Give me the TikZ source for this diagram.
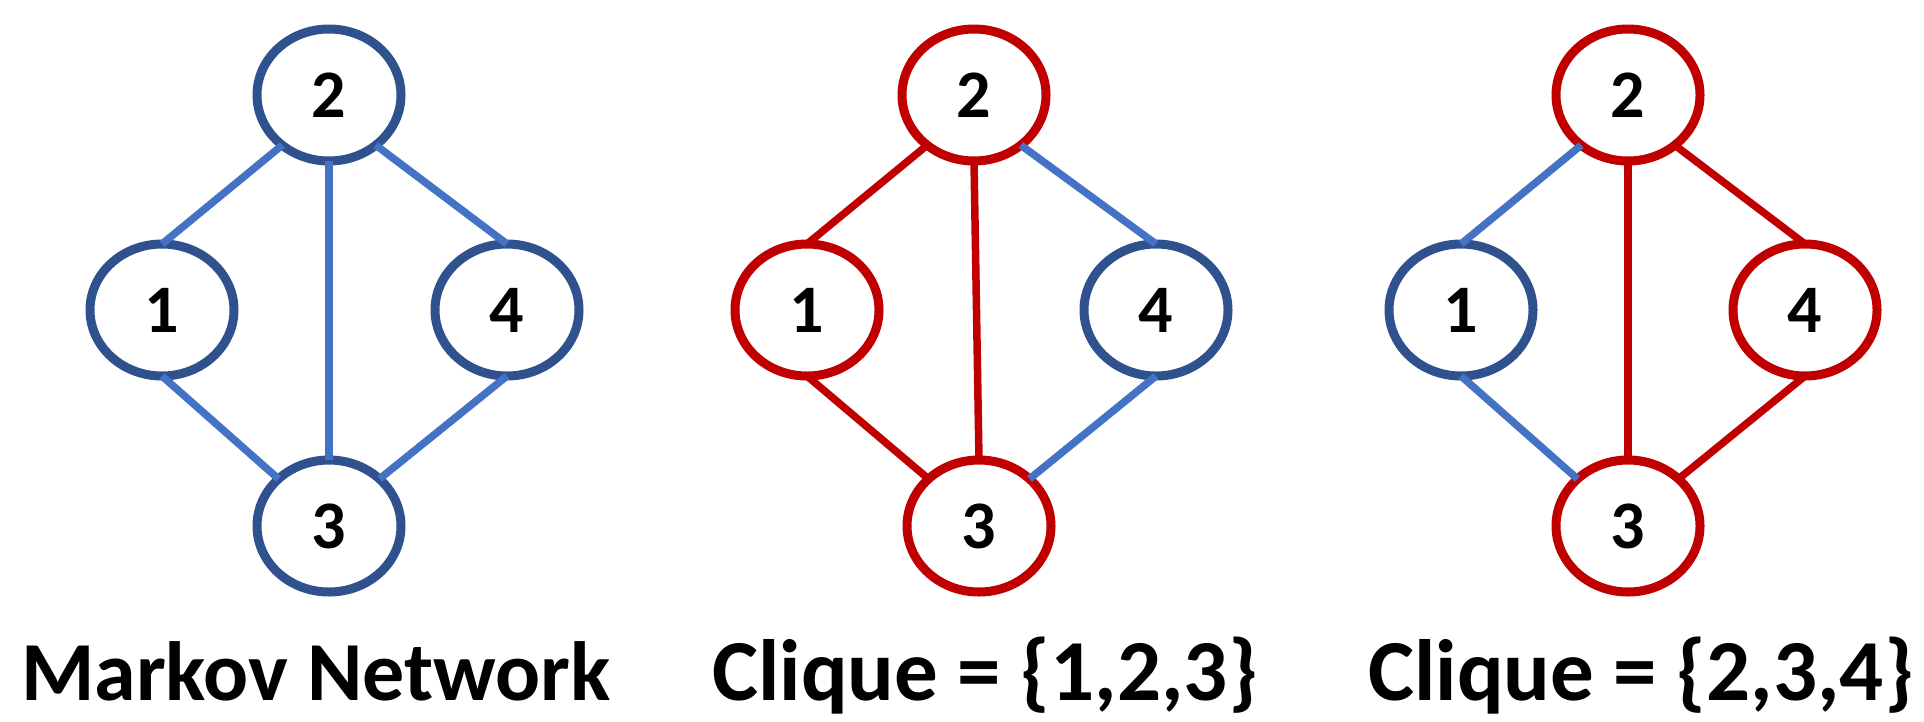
\documentclass[tikz,border=0pt]{standalone}
\usepackage{fontspec}
\setmainfont{Carlito}
\usetikzlibrary{shapes.geometric}
\definecolor{nodeblue}{HTML}{2F528F}
\definecolor{edgeblue}{HTML}{4472C4}
\definecolor{cred}{HTML}{C00000}
\tikzset{
  vbase/.style={ellipse, minimum width=144pt, minimum height=132pt, inner sep=0pt, outer sep=0pt,
    line width=9pt, fill=white, font=\fontsize{68}{80}\selectfont\bfseries},
  vblue/.style={vbase, draw=nodeblue},
  vred/.style={vbase, draw=cred},
  eblue/.style={draw=edgeblue, line width=7.5pt},
  ered/.style={draw=cred, line width=7.5pt},
  caption/.style={anchor=base, inner sep=0pt, font=\fontsize{84}{100}\selectfont\bfseries},
  captionb/.style={caption, font=\fontsize{87}{104}\selectfont\bfseries}
}
\begin{document}
\begin{tikzpicture}[x=1pt, y=-1pt]
\useasboundingbox (0,0) rectangle (1924,721);
% Graph 1
\node[vblue] (a2) at (329,95) {2};
\node[vblue] (a1) at (162,310) {1};
\node[vblue] (a4) at (507,310) {4};
\node[vblue] (a3) at (329,526) {3};
\draw[eblue] (a2.227) -- (a1.north);
\draw[eblue] (a2.south) -- (a3.north);
\draw[eblue] (a2.313) -- (a4.north);
\draw[eblue] (a1.south) -- (a3.137);
\draw[eblue] (a4.south) -- (a3.43);
\node[caption] (t1) at (316,700) {Markov Network};
% Graph 2
\node[vred] (b2) at (974,95) {2};
\node[vred] (b1) at (807,310) {1};
\node[vblue] (b4) at (1156,310) {4};
\node[vred] (b3) at (979,526) {3};
\draw[ered] (b2.227) -- (b1.north);
\draw[ered] (b2.south) -- (b3.north);
\draw[eblue] (b2.313) -- (b4.north);
\draw[ered] (b1.south) -- (b3.137);
\draw[eblue] (b4.south) -- (b3.43);
\node[captionb] (t2) at (985,700) {Clique = \{1,2,3\}};
% Graph 3
\node[vred] (c2) at (1628,95) {2};
\node[vblue] (c1) at (1461,310) {1};
\node[vred] (c4) at (1805,310) {4};
\node[vred] (c3) at (1628,526) {3};
\draw[eblue] (c2.227) -- (c1.north);
\draw[ered] (c2.south) -- (c3.north);
\draw[ered] (c2.313) -- (c4.north);
\draw[eblue] (c1.south) -- (c3.137);
\draw[ered] (c4.south) -- (c3.43);
\node[captionb] (t3) at (1641,700) {Clique = \{2,3,4\}};
\end{tikzpicture}
\end{document}
